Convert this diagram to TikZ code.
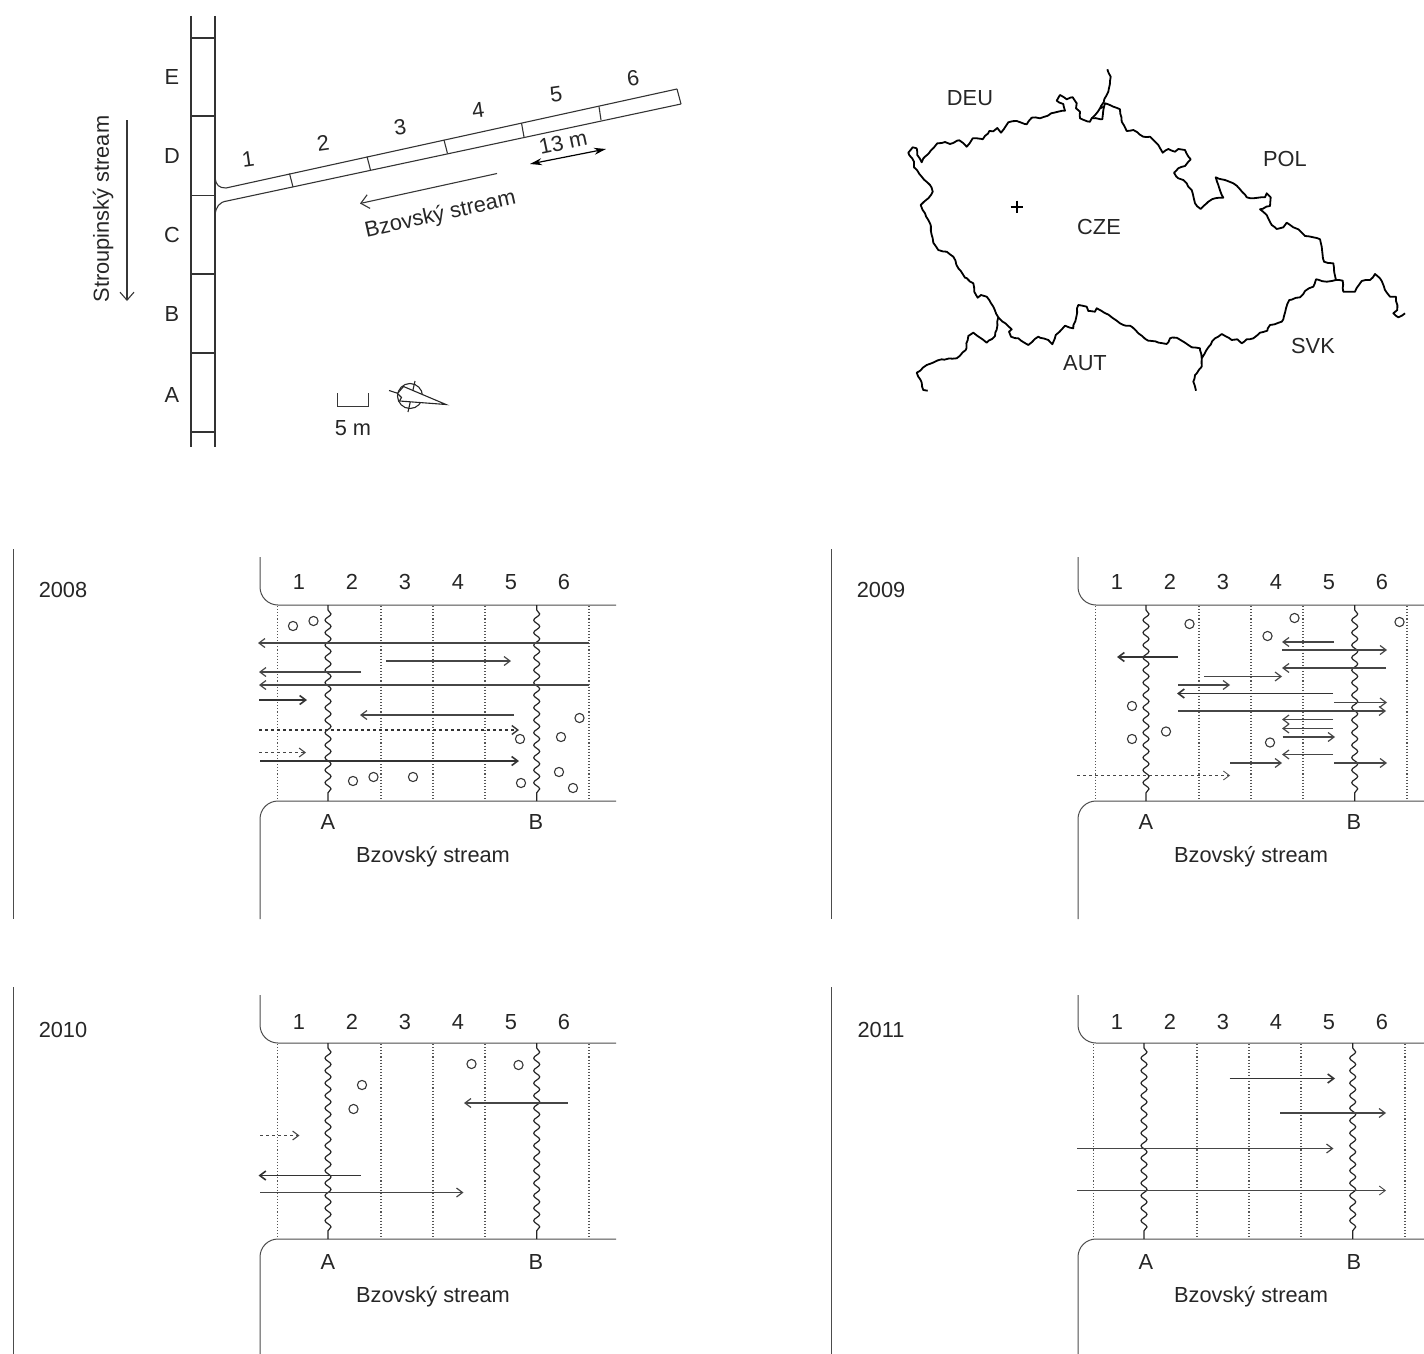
\documentclass[tikz,border=0pt]{standalone}
\usepackage{fontspec}
\setmainfont{Liberation Sans}
\usetikzlibrary{arrows.meta,decorations.pathmorphing}
\definecolor{InkGray}{RGB}{55,55,55}
\definecolor{ArrowGray}{RGB}{70,70,70}
\definecolor{DotGray}{RGB}{85,85,85}
\tikzset{
  label/.style={font=\fontsize{21.8}{26}\selectfont,text=black!85,inner sep=0pt,text height=15.6pt,text depth=0pt},
  frameline/.style={line width=1pt,black!70},
  bankline/.style={line width=1.1pt,black!80},
  weir/.style={line width=1.2pt,black!85,decorate,
    decoration={snake,amplitude=3pt,segment length=12.5pt,pre length=5pt,post length=5pt}},
  reach/.style={line width=1.1pt,dotted,DotGray},
  fish/.style={line width=1.1pt,InkGray},
  move/.style={->,line width=1.2pt,ArrowGray},
  movebold/.style={->,line width=1.6pt,black!80},
  movedash/.style={->,line width=1.1pt,dashed,ArrowGray},
  flowdir/.style={-{Straight Barb[length=8pt,width=14pt]},line width=1.1pt,InkGray},
  border/.style={line width=1.8pt,black,line join=round,decorate,
    decoration={random steps,segment length=4pt,amplitude=.6pt}}
}
\begin{document}
\begin{tikzpicture}[x=1pt,y=-1pt,>={Straight Barb[length=6pt,width=9pt]}]
      \useasboundingbox (0,0) rectangle (1424,1354);
      \clip (0,0) rectangle (1424,1354);
      % Stroupinsky stream
      \draw[bankline] (191,16)--(191,447);
      \draw[bankline] (215,16)--(215,447);
      \draw[bankline] (215,178) .. controls (216,185) and (219,188) .. (226,188)--(677,89);
      \draw[bankline] (215,215) .. controls (216,207) and (219,202) .. (227,201)--(681,104);
      \foreach \y in {38,116,195.5,274,353,432}
        \draw[bankline] (191,\y)--(215,\y);
      \node[label] (secE) at (172,77) {E};
      \node[label] (secD) at (172,156) {D};
      \node[label] (secC) at (172,235) {C};
      \node[label] (secB) at (172,314) {B};
      \node[label] (secA) at (172,395) {A};
      \node[label,rotate=90] (stroup) at (101,209) {Stroupinský stream};
      \draw[flowdir] (127,120)--(127,301);
      % Bzovsky stream
      \draw[bankline] (677,89)--(681,104);
      \draw[bankline] (289.5,173.5)--(293,187);
      \draw[bankline] (367,156.5)--(370.5,170);
      \draw[bankline] (444,140)--(447.5,153.5);
      \draw[bankline] (521.5,123)--(524,137);
      \draw[bankline] (599,106.5)--(601,120);
      \node[label,rotate=8] (up1) at (248,159) {1};
      \node[label,rotate=8] (up2) at (323,143) {2};
      \node[label,rotate=8] (up3) at (400,127) {3};
      \node[label,rotate=8] (up4) at (478,110) {4};
      \node[label,rotate=8] (up5) at (556,94) {5};
      \node[label,rotate=8] (up6) at (633,78) {6};
      \node[label,rotate=12] (thirteen) at (563,142) {13 m};
      \draw[{Stealth[length=12pt,width=7pt]}-{Stealth[length=12pt,width=7pt]},line width=1.2pt,black]
        (530,164)--(606,149);
      \draw[flowdir] (497,173.5)--(360,203.5);
      \node[label,rotate=12.5] (bzov) at (440,213) {Bzovský stream};
      % scale and north arrow
      \draw[line width=1.1pt,InkGray] (337.5,393)--(337.5,406.5)--(368.5,406.5)--(368.5,393);
      \node[label] (scale) at (353,428) {5 m};
      \draw[line width=1.1pt,black!85] (410,396) circle (12.5);
      \draw[line width=1.1pt,black!85] (415,381)--(408,412);
      \draw[line width=1.1pt,black!85] (389,390.5)--(400,394);
      \draw[line width=1.1pt,black!85,fill=white] (446,404.5)--(403.5,386.5)--(397.5,393.5)--(401.5,397.5)--(399.5,401)--cycle;
      % map
      \draw[border] (908.3,152.7)--(912.7,147.3)--(916.7,148.3)--(917.3,155)--(921.7,162.3)--(925,156.7)
        --(930.7,150.7)--(937.3,143.3)--(945,142)--(950,144)--(959.3,140.3)--(966.7,146.7)
        --(972.7,138.3)--(982.7,139.3)--(989.3,131)--(993.3,131.3)--(997.3,128)--(1001,132.7)
        --(1008.3,122.3)--(1016.7,121)--(1026.7,124.3)--(1031.7,117.7)--(1040,118.3)--(1054,112.7)
        --(1065,110.7)--(1063.3,104)--(1056.7,100.7)--(1060,95)--(1066.7,99.3)--(1072.7,97.3)
        --(1076.7,103.3)--(1076,108.3)--(1080,111.7)--(1080,118.3)--(1090,121.7)--(1091.7,118.3)
        --(1102.3,119.3)--(1104,106.7)--(1105,103.3)--(1113.3,106.7)--(1120,109.3)--(1121.7,121.7)
        --(1126.7,131)--(1133.3,130)--(1143.3,136.7)--(1150,136.7)--(1155,141.7)--(1158.3,145)
        --(1162.7,152.7)--(1168.3,149)--(1175,151.7)--(1178.3,149)--(1185,150)--(1190.7,159.3)
        --(1185,166)--(1178.3,168.3)--(1174,172.7)--(1178.3,178.3)--(1183.3,180)--(1191.7,190)
        --(1195,203.3)--(1200.7,209)--(1208.3,201.7)--(1215,198.3)--(1223.3,197.7)--(1218.3,185)
        --(1215.7,177.3)--(1225,180)--(1233.3,183.3)--(1240,189.3)--(1246.7,197.3)--(1253.3,198.3)
        --(1265,197.3)--(1266.7,193.3)--(1270.7,197.3)--(1270,206)--(1260,209.3)--(1266.7,215)
        --(1271.7,225)--(1276.7,229)--(1283.3,227.3)--(1286.7,222.7)--(1293.3,227.3)--(1298.3,229.3)
        --(1305,236)--(1313.3,237.3)--(1320,239.3)--(1321.7,246.7)--(1324,261.7)--(1333.3,263.3)
        --(1336,280)--(1326.7,281.7)--(1316,279.3)--(1313.3,286.7)--(1305,291)--(1300,297.3)
        --(1289.3,300)--(1286,308.3)--(1283.3,319.3)--(1281.7,321.7)--(1270,325)--(1267.3,330.7)
        --(1260,332.7)--(1253.3,338.3)--(1246.7,339.3)--(1241.7,343.3)--(1237.3,339.3)--(1231.7,340)
        --(1221.7,334)--(1215,338.3)--(1208.3,347.3)--(1201.7,358.3)--(1200,348.3)--(1191.7,347.3)
        --(1185,342.7)--(1176.7,337.7)--(1170,338.3)--(1166.7,344)--(1148.3,340.7)--(1138.3,333.3)
        --(1130,325.7)--(1123.3,325)--(1111.7,317.3)--(1101.7,311)--(1096.7,308.3)--(1095,311.7)
        --(1088.3,311)--(1086.7,306.7)--(1078.3,305)--(1073.3,328.3)--(1065,325.7)--(1055.7,335)
        --(1052.3,344.3)--(1048.3,340)--(1038.3,336.7)--(1028.3,345)--(1018.3,338.3)--(1011,336.7)
        --(1009,331.7)--(1011.7,329.3)--(998.3,317.3)--(993.3,306.7)--(986.7,296.7)--(981,295)
        --(977.7,297.7)--(974.3,291.7)--(973.3,283.3)--(965,277.7)--(958.3,268.3)--(953.3,256.7)
        --(946.7,251.7)--(938.3,250)--(933.3,242.7)--(932.7,238.3)--(930,223.3)--(925,213.3)
        --(920.7,205)--(928.3,198.3)--(932.7,191.7)--(930,185)--(921.7,176.7)--(914,167.3)
        --(914,161.7)--cycle;
      \draw[border] (1107.3,69.3)--(1110.7,76.7)--(1108.3,91.7)--(1100,108.3)--(1091.7,118.3);
      \draw[border] (1100,108.3)--(1104,106.7);
      \draw[border] (1336,280)--(1342.7,280.7)--(1343.3,291.7)--(1355,291.7)--(1361.7,281)--(1370,280)
        --(1375,274)--(1380,278.3)--(1385,290)--(1390,296.7)--(1396,296.7)--(1397.3,310)
        --(1393.3,313.3)--(1398.3,317.3)--(1405,313.3);
      \draw[border] (1201.7,358.3)--(1201.7,366.7)--(1195,375)--(1193.3,381.7)--(1196,390.7);
      \draw[border] (998.3,317.3)--(995,336)--(986.7,342.7)--(973.3,332.7)--(968.3,336)--(965.7,350)
        --(956.7,358.3)--(941.7,359.3)--(926.7,365)--(916.7,372.7)--(921.7,382.7)--(923.3,390)--(927.7,390.7);
      \draw[line width=2.4pt,black] (1010.5,206.7)--(1023,206.7) (1016.7,200.5)--(1016.7,213);
      \node[label] (deu) at (970,98) {DEU};
      \node[label] (pol) at (1285,159) {POL};
      \node[label] (cze) at (1099,227) {CZE};
      \node[label] (aut) at (1085,363) {AUT};
      \node[label] (svk) at (1313,346) {SVK};
      % the four years
      \foreach \dx/\gx/\dy/\ty/\yr in {0/0/0/0/2008,818/818/0/0/2009,0/0/438/440/2010,818/816/438/440/2011}{
        \draw[frameline] (13.5+\dx,549+\dy)--(13.5+\dx,919+\dy);
        \draw[frameline,rounded corners=18pt] (260+\dx,557+\dy)--(260+\dx,605+\dy)--(616+\dx,605+\dy);
        \draw[frameline,rounded corners=18pt] (616+\dx,801+\dy)--(260+\dx,801+\dy)--(260+\dx,919+\dy);
        \foreach \x in {277.5,381,433,485,589}
          \draw[reach] (\x+\gx,606+\dy)--(\x+\gx,800+\dy);
        \draw[weir] (328+\gx,605+\dy)--(328+\gx,801+\dy);
        \draw[weir] (536.7+\gx,605+\dy)--(536.7+\gx,801+\dy);
        \node[label] (year\yr) at (63+\dx,590+\ty) {\yr};
        \foreach \n/\x in {1/299,2/352,3/405,4/458,5/511,6/564}
          \node[label] (num\yr\n) at (\x+\dx,582+\ty) {\n};
        \node[label] (weirA\yr) at (328+\dx,822+\ty) {A};
        \node[label] (weirB\yr) at (536+\dx,822+\ty) {B};
        \node[label] (name\yr) at (433+\dx,855+\ty) {Bzovský stream};
      }
      % 2008
      \draw[move] (589,643)--(258,643);
      \draw[move] (386,661)--(511,661);
      \draw[move] (361,672)--(259,672);
      \draw[move] (589,685)--(259,685);
      \draw[movebold] (259,700)--(307,700);
      \draw[move] (514,715)--(360,715);
      \draw[movedash,line width=1.4pt,black!80] (259,730)--(519,730);
      \draw[movedash] (259,752.5)--(306,752.5);
      \draw[movebold] (260,761)--(519,761);
      \foreach \p in {(293,626),(313.5,621),(579.5,718),(561,737),(520,739),(559,772),(573,788),(521,783),(353,781),(373.5,777),(413,777)}
        \draw[fish] \p circle (4.6);
      % 2009
      \draw[move] (1334,642)--(1282,642);
      \draw[move] (1282,650)--(1387,650);
      \draw[movebold] (1177.5,657)--(1117,657);
      \draw[move] (1386,668)--(1282,668);
      \draw[move] (1204,676.5)--(1282,676.5);
      \draw[move] (1178,685)--(1230,685);
      \draw[movebold] (1333,693.5)--(1177,693.5);
      \draw[move] (1334,702.5)--(1387,702.5);
      \draw[move] (1178,711)--(1386,711);
      \draw[move] (1333,719.5)--(1282,719.5);
      \draw[move] (1333,728.5)--(1282,728.5);
      \draw[move] (1282.5,737)--(1335,737);
      \draw[move] (1333,754.5)--(1282,754.5);
      \draw[move] (1230,763)--(1282,763);
      \draw[move] (1334,763)--(1387,763);
      \draw[movedash,line width=.8pt] (1077,775.5)--(1230,775.5);
      \foreach \p in {(1189.5,624),(1294.5,618),(1267.5,636),(1399.5,622),(1132,706),(1132,739),(1166,731.5),(1270,742.5)}
        \draw[fish] \p circle (4.6);
      % 2010
      \draw[move] (567.5,1103)--(464,1103);
      \draw[movedash] (260,1135.5)--(299.5,1135.5);
      \draw[movebold] (360.5,1175.5)--(258.5,1175.5);
      \draw[move] (260,1192.5)--(463.5,1192.5);
      \foreach \p in {(471.5,1064),(518.5,1065),(362,1085),(353.5,1109)}
        \draw[fish] \p circle (4.6);
      % 2011
      \draw[movebold] (1229.5,1078.5)--(1335,1078.5);
      \draw[move] (1280,1113)--(1386,1113);
      \draw[move] (1077,1148.5)--(1333.5,1148.5);
      \draw[move,line width=.9pt] (1077,1190.5)--(1386,1190.5);
    \end{tikzpicture}
\end{document}
